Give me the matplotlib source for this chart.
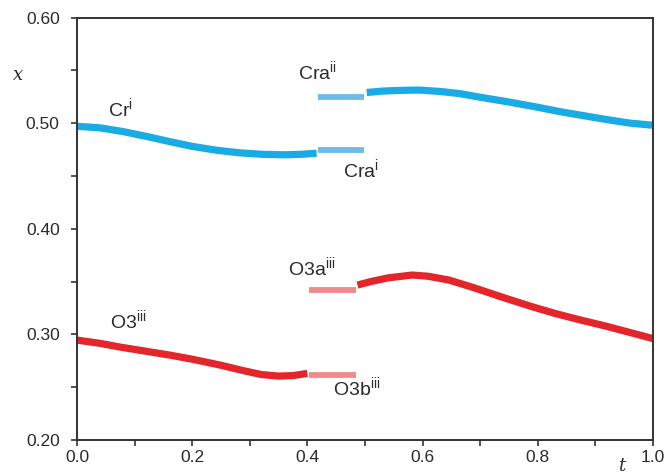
import matplotlib
matplotlib.use("Agg")
import matplotlib.pyplot as plt
from matplotlib.ticker import MultipleLocator

plt.rcParams['font.family'] = ['Liberation Sans', 'DejaVu Sans']
plt.rcParams['mathtext.fontset'] = 'custom'
plt.rcParams['mathtext.rm'] = 'Liberation Sans'

# Cr (blue) curves
cr_i_t = [0.0, 0.04, 0.08, 0.12, 0.161, 0.20, 0.24, 0.28, 0.32, 0.36, 0.39, 0.416]
cr_i_x = [0.497, 0.4955, 0.492, 0.4875, 0.4825, 0.478, 0.4745, 0.472, 0.4705, 0.470, 0.4705, 0.4715]
cr_ii_t = [0.503, 0.53, 0.56, 0.594, 0.63, 0.664, 0.70, 0.75, 0.80, 0.837, 0.88, 0.924, 0.96, 1.0]
cr_ii_x = [0.529, 0.5303, 0.531, 0.5313, 0.530, 0.528, 0.5245, 0.520, 0.515, 0.511, 0.507, 0.503, 0.500, 0.498]
cra_i_t = [0.418, 0.499]
cra_i_x = [0.4745, 0.4745]
cra_ii_t = [0.418, 0.499]
cra_ii_x = [0.525, 0.525]

# O3 (red) curves
o3_t = [0.0, 0.04, 0.0745, 0.12, 0.161, 0.20, 0.248, 0.29, 0.32, 0.35, 0.375, 0.40]
o3_x = [0.2946, 0.2915, 0.288, 0.284, 0.2804, 0.2765, 0.271, 0.2655, 0.262, 0.2605, 0.261, 0.263]
o3a_t = [0.487, 0.51, 0.54, 0.582, 0.61, 0.646, 0.69, 0.745, 0.79, 0.832, 0.875, 0.919, 0.96, 1.0]
o3a_x = [0.3467, 0.350, 0.3535, 0.3562, 0.355, 0.3514, 0.344, 0.334, 0.3262, 0.3195, 0.3135, 0.3077, 0.3018, 0.296]
o3a_seg_t = [0.402, 0.485]
o3a_seg_x = [0.342, 0.342]
o3b_seg_t = [0.402, 0.485]
o3b_seg_x = [0.2615, 0.2615]

blue = '#19ACE4'
blue_l = '#6CBCE6'
red = '#E4262A'
red_l = '#EE8C8C'
txt = '#2b2b2b'

fig = plt.figure(figsize=(6.71, 4.75), dpi=100)
ax = fig.add_axes([77/671, 35/475, 576/671, 422.5/475])

kw = dict(lw=5.2, solid_capstyle='butt', solid_joinstyle='round')
kw2 = dict(lw=4.2, solid_capstyle='butt')
ax.plot(cr_i_t, cr_i_x, color=blue, **kw)
ax.plot(cr_ii_t, cr_ii_x, color=blue, **kw)
ax.plot(cra_i_t, cra_i_x, color=blue_l, **kw2)
ax.plot(cra_ii_t, cra_ii_x, color=blue_l, **kw2)
ax.plot(o3_t, o3_x, color=red, **kw)
ax.plot(o3a_t, o3a_x, color=red, **kw)
ax.plot(o3a_seg_t, o3a_seg_x, color=red_l, **kw2)
ax.plot(o3b_seg_t, o3b_seg_x, color=red_l, **kw2)

ax.set_xlim(0, 1.0)
ax.set_ylim(0.2, 0.6)
ax.set_xticks([0.0, 0.1, 0.2, 0.3, 0.4, 0.5, 0.6, 0.7, 0.8, 0.9, 1.0])
ax.set_xticklabels(['0.0', '', '0.2', '', '0.4', '', '0.6', '', '0.8', '', '1.0'])
ax.yaxis.set_major_locator(MultipleLocator(0.1))
ax.yaxis.set_minor_locator(MultipleLocator(0.05))
ax.yaxis.set_major_formatter(matplotlib.ticker.FormatStrFormatter('%.2f'))

for s in ax.spines.values():
    s.set_color('#333333')
    s.set_linewidth(1.4)
ax.tick_params(axis='both', which='both', direction='out', length=4.5, width=1.2,
               color='#333333', labelsize=12.5, labelcolor=txt)
ax.tick_params(axis='y', pad=8)
ax.tick_params(axis='x', pad=3)

fs = 14
ax.text(0.054, 0.5057, r'Cr$^{\mathregular{i}}$', fontsize=fs, color=txt, ha='left', va='baseline')
ax.text(0.383, 0.5408, r'Cra$^{\mathregular{ii}}$', fontsize=fs, color=txt, ha='left', va='baseline')
ax.text(0.461, 0.4475, r'Cra$^{\mathregular{i}}$', fontsize=fs, color=txt, ha='left', va='baseline')
ax.text(0.366, 0.355, r'O3a$^{\mathregular{iii}}$', fontsize=fs, color=txt, ha='left', va='baseline')
ax.text(0.058, 0.305, r'O3$^{\mathregular{iii}}$', fontsize=fs, color=txt, ha='left', va='baseline')
ax.text(0.444, 0.2415, r'O3b$^{\mathregular{iii}}$', fontsize=fs, color=txt, ha='left', va='baseline')

fig.text(18/671, 1 - 75/475, 'x', family='DejaVu Serif', style='italic', fontsize=13, color=txt,
         ha='center', va='center')
fig.text(622/671, 1 - 466/475, 't', family='DejaVu Serif', style='italic', fontsize=13, color=txt,
         ha='center', va='center')

fig.savefig('out.png', dpi=100)
